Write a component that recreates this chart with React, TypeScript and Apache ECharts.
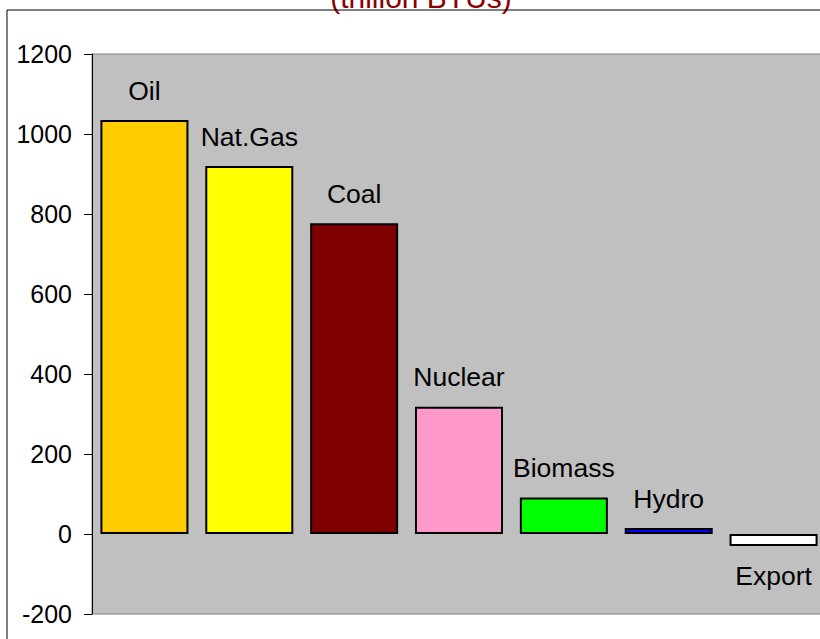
import React, { useEffect, useRef } from "react";
import * as echarts from "echarts";

const categories = ["Oil", "Nat.Gas", "Coal", "Nuclear", "Biomass", "Hydro", "Export"];
const values = [1035, 920, 777, 318, 91, 15, -30];
const colors = ["#FFCC00", "#FFFF00", "#800000", "#FF99CC", "#00FF00", "#0000FF", "#FFFFFF"];
const titleText = "(trillion BTUs)";

export default function App() {
  const ref = useRef<HTMLDivElement>(null);
  useEffect(() => {
    if (!ref.current) return;
    const chart = echarts.init(ref.current, null, { renderer: "svg" });
    const font = "'Liberation Sans', Arial, sans-serif";
    chart.setOption({
      animation: false,
      backgroundColor: "#FFFFFF",
      graphic: [
        {
          type: "rect",
          shape: { x: 7, y: 10, width: 900, height: 700 },
          style: { fill: "none", stroke: "#000000", lineWidth: 1 },
          silent: true,
          z: 100,
        },
        {
          type: "text",
          x: 421,
          y: 12,
          style: {
            text: titleText,
            fill: "#8B0000",
            font: `30px ${font}`,
            textAlign: "center",
            textVerticalAlign: "bottom",
          },
        },
      ],
      grid: {
        left: 92,
        top: 54,
        right: 14,
        bottom: 25,
        show: true,
        backgroundColor: "#C0C0C0",
        borderColor: "#808080",
        borderWidth: 1,
        containLabel: false,
      },
      xAxis: {
        type: "category",
        data: categories,
        boundaryGap: true,
        axisLine: { show: false },
        axisTick: { show: false },
        axisLabel: { show: false },
      },
      yAxis: {
        type: "value",
        min: -200,
        max: 1200,
        interval: 200,
        axisLine: { show: true, lineStyle: { color: "#000000", width: 1 } },
        axisTick: { show: true, length: 8, lineStyle: { color: "#000000" } },
        splitLine: { show: false },
        axisLabel: {
          color: "#000000",
          fontSize: 25,
          fontFamily: font,
          margin: 20,
          formatter: (v: number) => String(v),
        },
      },
      series: [
        {
          type: "bar",
          barWidth: 88,
          data: values.map((v, i) => ({
            value: v,
            itemStyle: { color: colors[i] },
            label: { position: v < 0 ? "bottom" : "top" },
          })),
          itemStyle: { borderColor: "#000000", borderWidth: 2 },
          label: {
            show: true,
            formatter: (p: any) => categories[p.dataIndex],
            color: "#000000",
            fontSize: 26.5,
            fontFamily: font,
            distance: 16,
          },
        },
      ],
    });
    return () => chart.dispose();
  }, []);
  return (
    <div style={{ width: 820, height: 639, overflow: "hidden", position: "absolute", left: 0, top: 0 }}>
      <div ref={ref} style={{ width: 840, height: 639 }} />
    </div>
  );
}
